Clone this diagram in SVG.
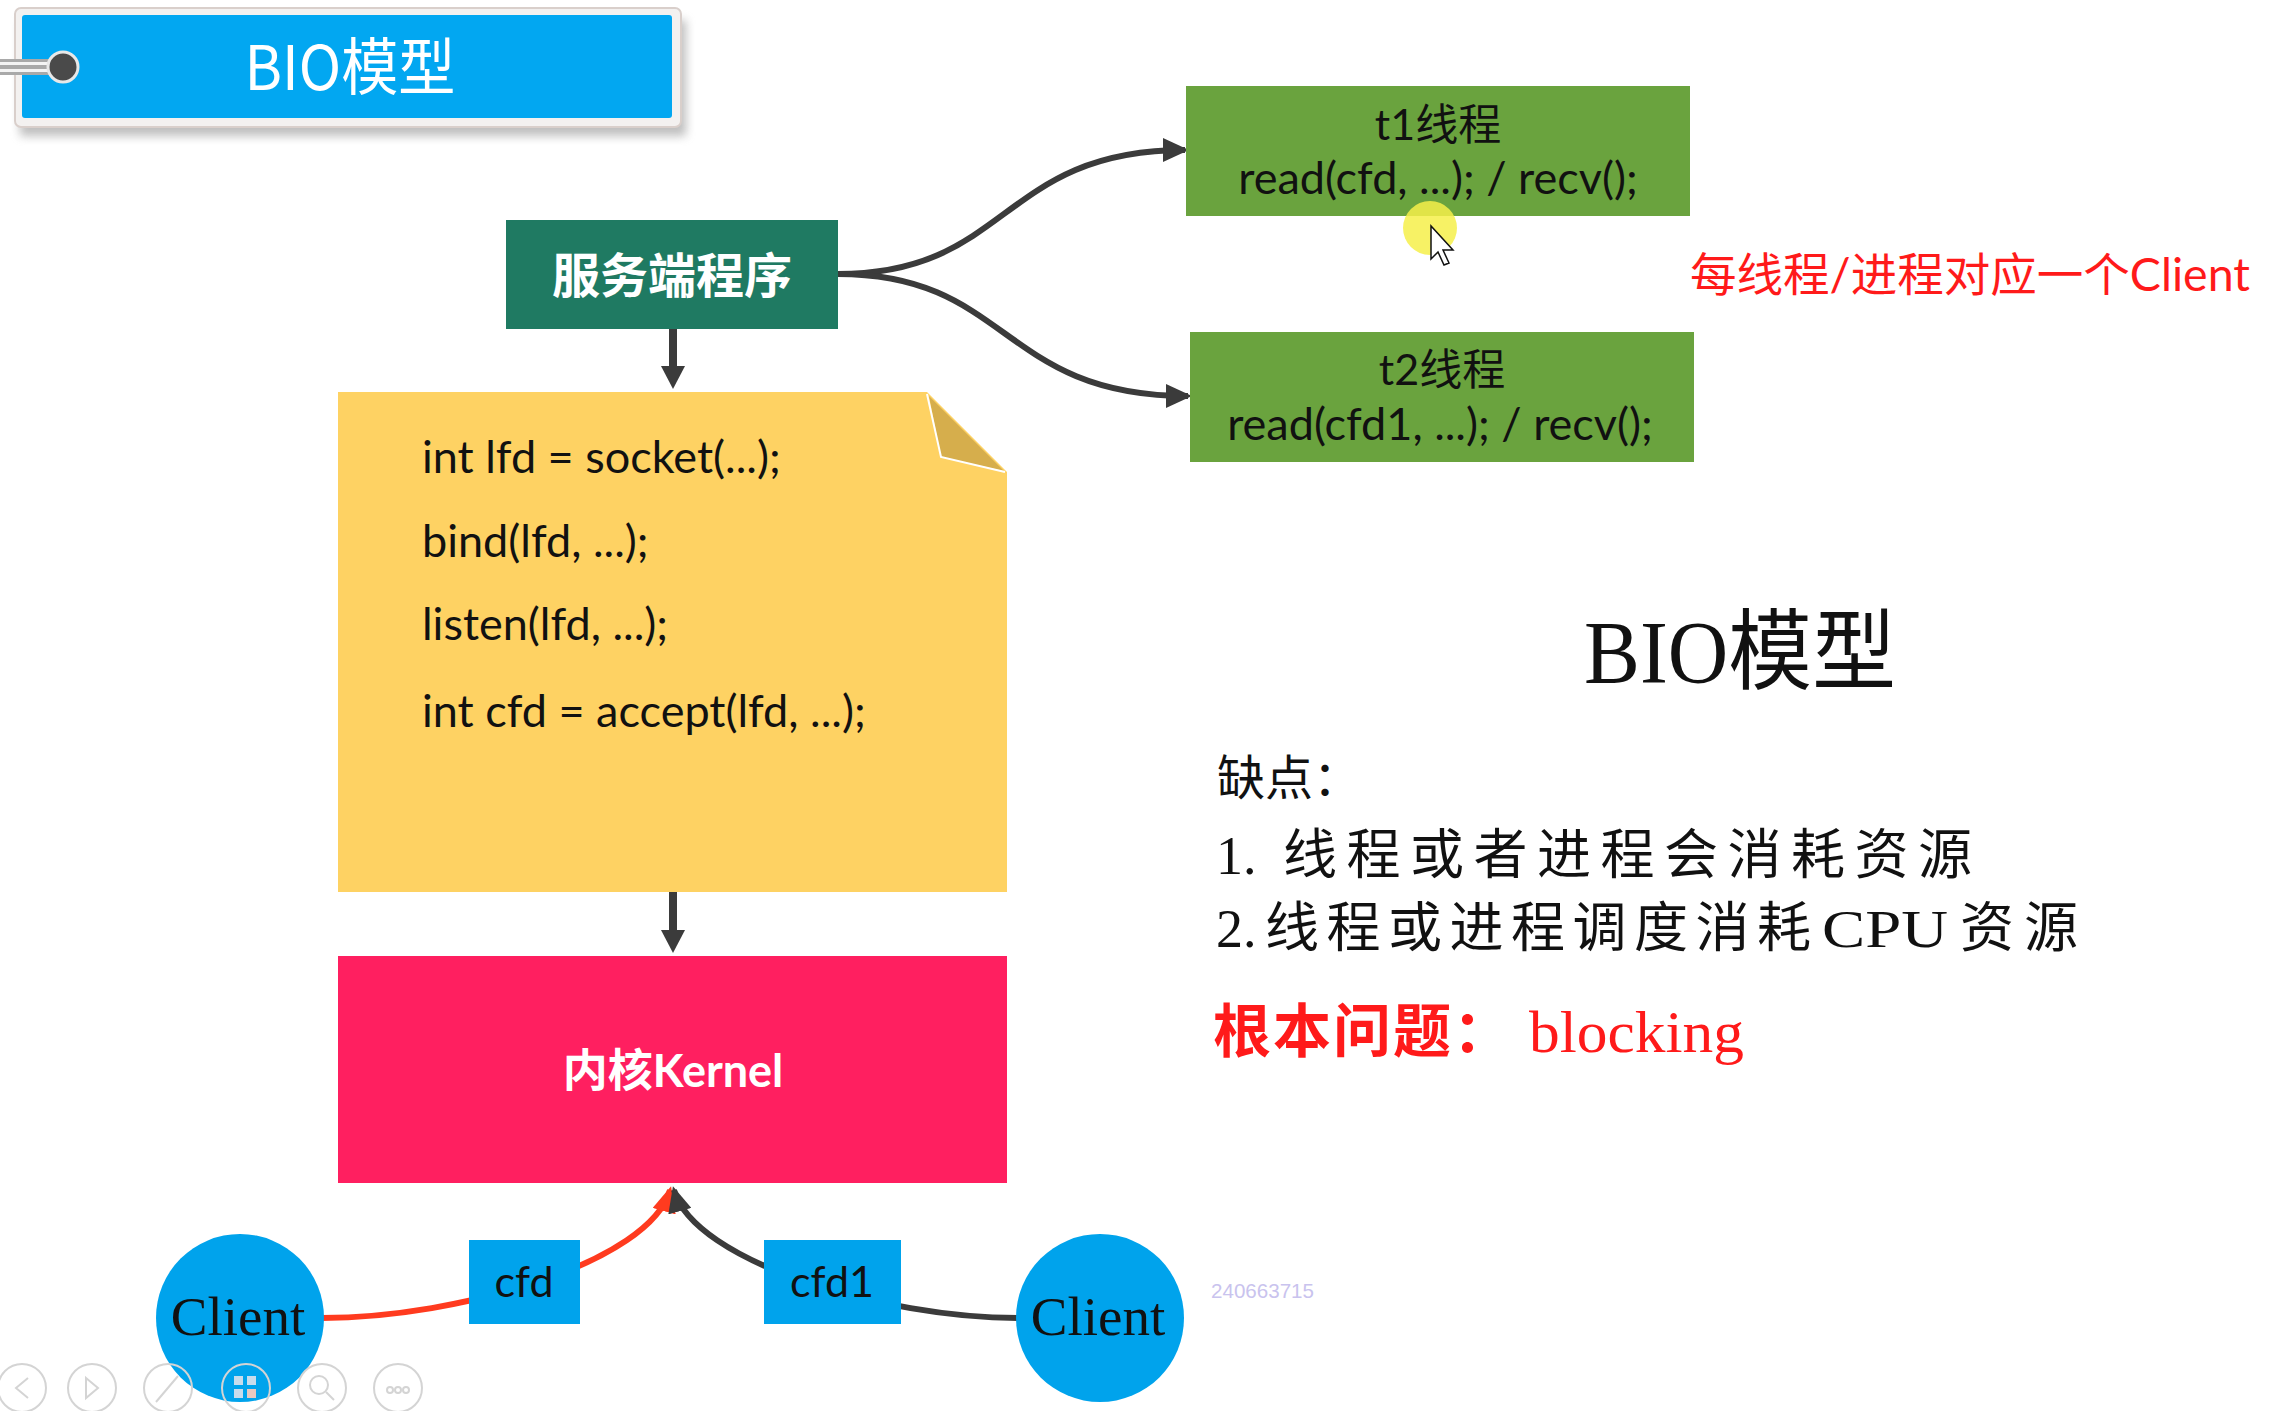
<svg xmlns="http://www.w3.org/2000/svg" width="2296" height="1411" viewBox="0 0 2296 1411">
<defs>
<style>
.code{font-family:Lato,"Noto Sans CJK SC",sans-serif;font-size:45px;fill:#111}
.thr{font-family:Lato,"Noto Sans CJK SC",sans-serif;fill:#111;text-anchor:middle}
.ser{font-family:"Liberation Serif","Noto Sans CJK SC",serif;fill:#111}
.cjk{font-family:"Liberation Serif","Noto Sans CJK SC",sans-serif;fill:#111}
.conn{fill:none;stroke:#3b3b3b;stroke-width:6}
.blue{fill:#00a3ec}
.tool{fill:none;stroke:#d4d4d4;stroke-width:2}
</style>
<marker id="ah" markerUnits="userSpaceOnUse" markerWidth="26" markerHeight="24" refX="22" refY="12" orient="auto" viewBox="0 0 26 24"><path d="M0,0 L26,12 L0,24 z" fill="#3b3b3b"/></marker>
<marker id="ahr" markerUnits="userSpaceOnUse" markerWidth="26" markerHeight="24" refX="22" refY="12" orient="auto" viewBox="0 0 26 24"><path d="M0,0 L26,12 L0,24 z" fill="#ff3b1f"/></marker>
<filter id="sh" x="-10%" y="-30%" width="120%" height="160%"><feGaussianBlur stdDeviation="5"/></filter>
</defs>
<rect x="0" y="0" width="2296" height="1411" fill="#ffffff"/>

<g id="header">
<rect x="20" y="20" width="666" height="116" fill="#8a8a8a" opacity="0.55" filter="url(#sh)"/>
<rect x="15" y="8" width="666" height="119" rx="6" fill="#f3f1f0" stroke="#d9cfcb" stroke-width="2"/>
<rect x="22" y="15" width="650" height="103" rx="3" fill="#02a7f1"/>
<rect x="0" y="59" width="60" height="16" fill="#a9a9a9"/>
<line x1="0" y1="63.5" x2="60" y2="63.5" stroke="#f4f4f4" stroke-width="3"/>
<line x1="0" y1="70.5" x2="60" y2="70.5" stroke="#f4f4f4" stroke-width="3"/>
<circle cx="63" cy="67" r="15" fill="#4a4a4a" stroke="#e8e8e8" stroke-width="3"/>
<text x="350" y="90" font-family="'Noto Sans CJK SC',sans-serif" font-size="62" fill="#ffffff" text-anchor="middle" textLength="211" lengthAdjust="spacingAndGlyphs">BIO模型</text>
</g>

<g id="connectors">
<line x1="673" y1="329" x2="673" y2="370" stroke="#3b3b3b" stroke-width="8"/>
<polygon points="661,366 685,366 673,389" fill="#3b3b3b"/>
<line x1="673" y1="892" x2="673" y2="934" stroke="#3b3b3b" stroke-width="8"/>
<polygon points="661,930 685,930 673,953" fill="#3b3b3b"/>
<path class="conn" d="M838,274 C1010,274 1000,150 1185,150" marker-end="url(#ah)"/>
<path class="conn" d="M838,274 C1010,274 1000,396 1188,396" marker-end="url(#ah)"/>
<path d="M322,1318 C460,1318 650,1262 670,1190" fill="none" stroke="#ff3b1f" stroke-width="6" marker-end="url(#ahr)"/>
<path d="M1018,1318 C884,1318 694,1262 674,1190" fill="none" stroke="#3b3b3b" stroke-width="6" marker-end="url(#ah)"/>
</g>

<g id="server">
<rect x="506" y="220" width="332" height="109" fill="#1f7a62"/>
<text x="672" y="293" font-family="'Noto Sans CJK SC',sans-serif" font-size="48" font-weight="bold" fill="#ffffff" text-anchor="middle">服务端程序</text>
</g>

<g id="t1">
<rect x="1186" y="86" width="504" height="130" fill="#6aa33e"/>
<text class="thr" x="1438" y="140" font-size="43">t1线程</text>
<text class="thr" x="1438" y="194" font-size="45">read(cfd, ...); / recv();</text>
</g>

<g id="t2">
<rect x="1190" y="332" width="504" height="130" fill="#6aa33e"/>
<text class="thr" x="1442" y="385" font-size="43">t2线程</text>
<text class="thr" x="1440" y="440" font-size="45">read(cfd1, ...); / recv();</text>
</g>

<text x="1690" y="291" font-family="Lato,'Noto Sans CJK SC',sans-serif" font-size="46" fill="#ff1a1a" textLength="560" lengthAdjust="spacingAndGlyphs">每线程/进程对应一个Client</text>

<g id="note">
<polygon points="338,392 927,392 1007,472 1007,892 338,892" fill="#fed263"/>
<polygon points="929,396 941,457 1004,471" fill="#d6ae4c"/>
<polyline points="927,394 941,457 1005,472" fill="none" stroke="#ffffff" stroke-width="2"/>
<text class="code" x="422" y="473">int lfd = socket(...);</text>
<text class="code" x="422" y="557">bind(lfd, ...);</text>
<text class="code" x="422" y="640">listen(lfd, ...);</text>
<text class="code" x="422" y="727">int cfd = accept(lfd, ...);</text>
</g>

<g id="kernel">
<rect x="338" y="956" width="669" height="227" fill="#ff1f60"/>
<text x="673" y="1087" font-family="Lato,'Noto Sans CJK SC',sans-serif" font-size="45" font-weight="bold" fill="#ffffff" text-anchor="middle">内核Kernel</text>
</g>

<g id="client1">
<circle class="blue" cx="240" cy="1318" r="84"/>
<text class="ser" x="238" y="1335" font-size="55" text-anchor="middle">Client</text>
</g>
<g id="client2">
<circle class="blue" cx="1100" cy="1318" r="84"/>
<text class="ser" x="1098" y="1335" font-size="55" text-anchor="middle">Client</text>
</g>
<g id="cfd">
<rect class="blue" x="469" y="1240" width="111" height="84"/>
<text class="thr" x="524" y="1297" font-size="43">cfd</text>
</g>
<g id="cfd1">
<rect class="blue" x="764" y="1240" width="137" height="84"/>
<text class="thr" x="832" y="1297" font-size="43">cfd1</text>
</g>

<g id="notes-right">
<text class="ser" x="1584" y="682" font-size="88" textLength="312" lengthAdjust="spacingAndGlyphs">BIO模型</text>
<text class="cjk" x="1217" y="795" font-size="48">缺点：</text>
<text class="cjk" y="874" font-size="54"><tspan x="1216">1.</tspan><tspan x="1283 1346.5 1410 1473.5 1537 1600.5 1664 1727.5 1791 1854.5 1918">线程或者进程会消耗资源</tspan></text>
<text class="cjk" y="947" font-size="54"><tspan x="1216">2.</tspan><tspan x="1265 1326.5 1388 1449.5 1511 1572.5 1634 1695.5 1757">线程或进程调度消耗</tspan><tspan x="1822" font-size="52" textLength="126" lengthAdjust="spacingAndGlyphs">CPU</tspan><tspan x="1960 2024">资源</tspan></text>
<text class="cjk" y="1052" font-size="58" style="fill:#ff1a1a"><tspan x="1213 1273 1333 1393 1453" font-weight="bold">根本问题：</tspan><tspan x="1529" font-size="60" textLength="215" lengthAdjust="spacingAndGlyphs">blocking</tspan></text>
</g>

<text x="1211" y="1298" font-family="'Liberation Sans',sans-serif" font-size="21" fill="#c9c3ee" textLength="103" lengthAdjust="spacingAndGlyphs">240663715</text>

<g id="cursor">
<circle cx="1430" cy="228" r="27" fill="#f6f04a" opacity="0.85"/>
<path d="M1431,226 L1431,259 L1438,252 L1444,265 L1449,263 L1443,250 L1453,250 Z" fill="#ffffff" stroke="#111" stroke-width="1.5"/>
</g>

<g id="toolbar">
<circle class="tool" cx="22" cy="1388" r="24"/>
<path class="tool" d="M28,1378 L16,1388 L28,1398"/>
<circle class="tool" cx="92" cy="1388" r="24"/>
<path class="tool" d="M86,1378 L98,1388 L86,1398 Z"/>
<circle class="tool" cx="168" cy="1388" r="24"/>
<path class="tool" d="M156,1402 L178,1376"/>
<circle class="tool" cx="246" cy="1388" r="24"/>
<rect x="234" y="1376" width="9" height="9" fill="#c8dcec"/>
<rect x="247" y="1376" width="9" height="9" fill="#c8dcec"/>
<rect x="234" y="1389" width="9" height="9" fill="#c8dcec"/>
<rect x="247" y="1389" width="9" height="9" fill="#e8c8c0"/>
<circle class="tool" cx="322" cy="1388" r="24"/>
<circle class="tool" cx="319" cy="1385" r="9"/>
<path class="tool" d="M326,1392 L334,1400"/>
<circle class="tool" cx="398" cy="1388" r="24"/>
<circle class="tool" cx="390" cy="1390" r="3"/>
<circle class="tool" cx="398" cy="1390" r="3"/>
<circle class="tool" cx="406" cy="1390" r="3"/>
</g>
</svg>
